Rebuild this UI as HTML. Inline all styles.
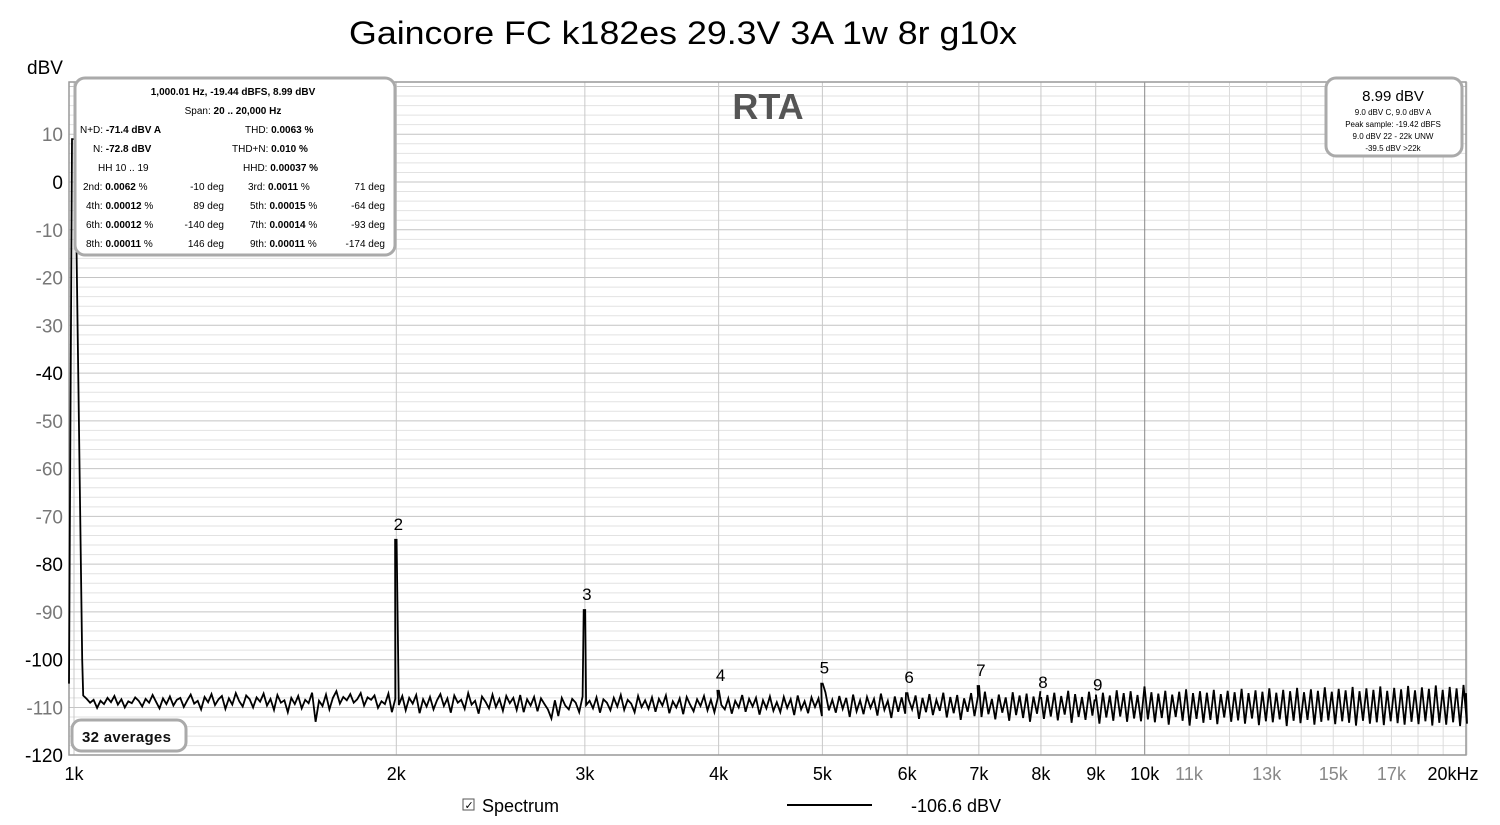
<!DOCTYPE html>
<html><head><meta charset="utf-8">
<style>
body{margin:0;background:#fff;width:1500px;height:825px;overflow:hidden;font-family:"Liberation Sans",Arial,sans-serif;}
svg{display:block}
</style></head>
<body>
<svg id="chart" width="1500" height="825" xmlns="http://www.w3.org/2000/svg">
<rect width="1500" height="825" fill="#fff"/>
<text x="349" y="44" font-size="32" textLength="668" lengthAdjust="spacingAndGlyphs" fill="#000">Gaincore FC k182es 29.3V 3A 1w 8r g10x</text>
<text x="27" y="74" font-size="19" fill="#000">dBV</text>
<g id="grid"></g>
<rect x="69" y="82" width="1397" height="673" fill="none" stroke="#999" stroke-width="1.5"/>
<g id="yticks"></g>
<g id="xticks"></g>
<text x="768" y="119" font-size="36" font-weight="bold" fill="#555" text-anchor="middle">RTA</text>
<path id="trace" fill="none" stroke="#000" stroke-width="1.8" stroke-linejoin="miter"/>
<g id="hlabels"></g>

<g font-size="10" fill="#000">
<rect x="75" y="78" width="320" height="177" rx="10" fill="#fff" stroke="#aaa" stroke-width="3"/>
<text x="233" y="95" text-anchor="middle" font-weight="bold">1,000.01 Hz, -19.44 dBFS, 8.99 dBV</text>
<text x="233" y="114" text-anchor="middle">Span: <tspan font-weight="bold">20 .. 20,000 Hz</tspan></text>
<text x="80" y="133">N+D: <tspan font-weight="bold">-71.4 dBV A</tspan></text>
<text x="245" y="133">THD: <tspan font-weight="bold">0.0063 %</tspan></text>
<text x="93" y="152">N: <tspan font-weight="bold">-72.8 dBV</tspan></text>
<text x="232" y="152">THD+N: <tspan font-weight="bold">0.010 %</tspan></text>
<text x="98" y="171">HH 10 .. 19</text>
<text x="243" y="171">HHD: <tspan font-weight="bold">0.00037 %</tspan></text>
<text x="83" y="190">2nd: <tspan font-weight="bold">0.0062</tspan> %</text><text x="224" y="190" text-anchor="end">-10 deg</text>
<text x="248" y="190">3rd: <tspan font-weight="bold">0.0011</tspan> %</text><text x="385" y="190" text-anchor="end">71 deg</text>
<text x="86" y="209">4th: <tspan font-weight="bold">0.00012</tspan> %</text><text x="224" y="209" text-anchor="end">89 deg</text>
<text x="250" y="209">5th: <tspan font-weight="bold">0.00015</tspan> %</text><text x="385" y="209" text-anchor="end">-64 deg</text>
<text x="86" y="228">6th: <tspan font-weight="bold">0.00012</tspan> %</text><text x="224" y="228" text-anchor="end">-140 deg</text>
<text x="250" y="228">7th: <tspan font-weight="bold">0.00014</tspan> %</text><text x="385" y="228" text-anchor="end">-93 deg</text>
<text x="86" y="247">8th: <tspan font-weight="bold">0.00011</tspan> %</text><text x="224" y="247" text-anchor="end">146 deg</text>
<text x="250" y="247">9th: <tspan font-weight="bold">0.00011</tspan> %</text><text x="385" y="247" text-anchor="end">-174 deg</text>
</g>

<g fill="#000" text-anchor="middle">
<rect x="1326" y="78" width="136" height="78" rx="10" fill="#fff" stroke="#aaa" stroke-width="3"/>
<text x="1393" y="101" font-size="15">8.99 dBV</text>
<text x="1393" y="115" font-size="8">9.0 dBV C, 9.0 dBV A</text>
<text x="1393" y="127" font-size="8">Peak sample: -19.42 dBFS</text>
<text x="1393" y="139" font-size="8">9.0 dBV 22 - 22k UNW</text>
<text x="1393" y="151" font-size="8">-39.5 dBV &gt;22k</text>
</g>

<g>
<rect x="72" y="720" width="114" height="31" rx="9" fill="#fff" stroke="#aaa" stroke-width="3"/>
<text x="82" y="742" font-size="15" font-weight="bold" fill="#111" letter-spacing="0.3">32 averages</text>
</g>

<g>
<rect x="463" y="799" width="11" height="11" fill="#fff" stroke="#555"/>
<text x="464.5" y="809" font-size="11" fill="#000">✓</text>
<text x="482" y="812" font-size="18" fill="#000">Spectrum</text>
<line x1="787" y1="805" x2="872" y2="805" stroke="#000" stroke-width="2"/>
<text x="911" y="812" font-size="18" fill="#000">-106.6 dBV</text>
</g>
</svg>
<script>
const yTicks=[10,0,-10,-20,-30,-40,-50,-60,-70,-80,-90,-100,-110,-120];
const yDark=[0,-40,-80,-100,-120];
const xMajor=[1000,2000,3000,4000,5000,6000,7000,8000,9000,10000,20000];
const xMajorLabels=["1k","2k","3k","4k","5k","6k","7k","8k","9k","10k","20kHz"];
const xMinor=[11000,13000,15000,17000];
const xMinorLabels=["11k","13k","15k","17k"];
const xMinorGrid=[12000,14000,16000,18000,19000];
const fundFreq=1000, fundLevel=8.99;
const harmFreqs=[2000,3000,4000,5000,6000,7000,8000,9000];
const harmLevels=[-74.9,-89.6,-106.5,-105,-107,-105.5,-108,-108.5];
const harmLabels=["2","3","4","5","6","7","8","9"];
const noiseStart=1020, noiseEnd=20000;
const noise=[
-107.5,-108.2,-109.0,-108.4,-110.1,-108.6,-109.3,-108.0,-108.9,-107.6,-109.4,-108.3,-110.0,-108.7,-109.1,-107.9,-108.6,-109.8,-108.2,-109.0,
-107.4,-108.8,-110.2,-108.1,-109.3,-107.7,-109.6,-108.4,-108.0,-109.9,-108.5,-107.3,-109.2,-108.6,-110.4,-107.8,-108.9,-107.2,-109.5,-108.3,
-107.6,-110.3,-108.1,-109.4,-107.0,-108.7,-109.8,-107.5,-108.3,-110.0,-107.9,-108.8,-107.1,-109.6,-108.2,-110.5,-107.4,-109.0,-108.5,-111.0,
-108.0,-109.3,-107.6,-110.2,-108.4,-109.1,-106.9,-113.0,-108.6,-109.7,-107.3,-110.4,-108.0,-106.6,-109.2,-107.8,-108.5,-107.2,-109.0,-108.3,
-107.0,-109.6,-107.9,-108.4,-107.5,-110.1,-108.7,-109.3,-107.1,-111.0,-108.2,-109.5,-107.6,-110.6,-108.0,-109.2,-107.4,-111.2,-108.3,-109.8,
-107.8,-110.4,-108.5,-107.2,-109.7,-108.1,-111.1,-107.5,-109.0,-108.4,-110.3,-107.0,-109.4,-108.6,-111.3,-107.7,-108.8,-110.2,-107.3,-109.9,
-108.2,-110.7,-107.6,-109.1,-108.0,-110.5,-107.4,-111.0,-108.3,-109.6,-107.8,-110.8,-108.1,-109.3,-110.4,-112.3,-108.5,-111.8,-108.0,-109.6,
-110.4,-108.2,-109.0,-111.0,-107.7,-109.5,-108.6,-110.2,-107.9,-111.1,-108.3,-109.0,-110.6,-108.0,-109.8,-107.4,-110.5,-108.4,-109.2,-111.0,
-107.6,-109.9,-108.5,-110.3,-107.9,-110.9,-108.2,-109.6,-107.5,-111.2,-108.7,-110.0,-108.1,-111.4,-107.8,-109.4,-110.8,-108.3,-109.7,-107.6,
-110.6,-108.4,-111.0,-107.9,-109.5,-110.4,-108.1,-111.3,-108.6,-110.0,-107.4,-110.9,-108.2,-109.8,-108.0,-111.5,-108.5,-110.2,-107.7,-110.7,
-108.9,-111.0,-107.8,-110.1,-108.3,-111.6,-107.5,-110.4,-108.7,-111.2,-107.9,-109.9,-108.1,-111.8,-106.8,-110.6,-108.4,-111.1,-107.6,-110.3,
-108.0,-112.0,-107.3,-110.8,-108.5,-111.4,-107.8,-110.1,-108.2,-111.7,-107.1,-110.5,-108.6,-112.2,-107.7,-110.9,-107.9,-111.3,-108.3,-110.4,
-107.5,-112.4,-108.0,-111.0,-107.2,-111.6,-108.4,-110.7,-106.9,-112.1,-107.8,-111.2,-107.4,-112.6,-108.1,-110.9,-107.0,-111.8,-107.6,-112.0,
-106.7,-111.4,-108.2,-112.5,-107.3,-111.1,-107.9,-112.8,-106.8,-111.6,-107.5,-112.2,-107.1,-113.0,-107.7,-111.3,-106.6,-112.4,-107.4,-111.9,
-106.9,-112.7,-107.6,-111.5,-106.5,-113.2,-107.2,-112.0,-107.8,-112.6,-106.7,-111.7,-107.3,-113.4,-106.9,-112.1,-107.5,-112.8,-106.4,-111.9,
-107.0,-113.0,-106.6,-112.3,-107.4,-112.9,-105.6,-112.5,-106.8,-113.1,-107.1,-112.2,-106.5,-113.6,-107.3,-112.0,-106.7,-112.8,-106.2,-113.8,
-107.0,-112.4,-106.6,-113.2,-106.9,-112.6,-106.3,-113.5,-107.2,-112.1,-106.5,-113.0,-106.8,-112.7,-106.1,-113.4,-107.0,-112.3,-106.4,-113.7,
-106.7,-112.9,-106.0,-113.1,-106.9,-112.5,-106.3,-113.9,-106.6,-112.8,-105.9,-113.3,-106.8,-112.6,-106.2,-113.6,-106.5,-113.0,-105.8,-112.7,
-106.7,-113.5,-106.1,-112.9,-106.4,-113.2,-105.7,-113.8,-106.6,-112.8,-106.0,-113.4,-106.3,-113.1,-105.6,-113.7,-106.5,-112.9,-105.9,-113.3,
-106.2,-113.6,-105.5,-113.0,-106.4,-113.5,-105.8,-112.9,-106.1,-113.8,-105.4,-113.2,-106.3,-113.6,-105.7,-113.1,-106.0,-113.9,-105.3,-113.4];

const X0=74, DEC=1070.7, Y0=182, PER=4.777;
const L=69,R=1466,T=82,B=755;
const xs=f=>X0+Math.log10(f/1000)*DEC;
const ys=v=>Math.max(T,Math.min(B,Y0-v*PER));
const NS='http://www.w3.org/2000/svg';
function mk(tag,attrs,parent){const e=document.createElementNS(NS,tag);for(const k in attrs)e.setAttribute(k,attrs[k]);parent.appendChild(e);return e;}
const grid=document.getElementById('grid');
for(let v=20;v>=-120;v-=2){
  const y=ys(v); if(y<=T||y>=B) continue;
  const l=mk('line',{x1:L,x2:R,y1:y,y2:y,stroke:(v%10===0)?'#c4c4c4':'#e2e2e2','stroke-width':1},grid);
  
  
}
xMajor.concat(xMinor,xMinorGrid).forEach(f=>{
  const x=xs(f);
  const l=mk('line',{x1:x,x2:x,y1:T,y2:B,stroke:f===10000?'#888':(f>10000?'#dcdcdc':'#c8c8c8'),'stroke-width':1},grid);
  
  
});
const yt=document.getElementById('yticks');
yTicks.forEach(v=>{
  const t=mk('text',{x:63,y:ys(v)+7,'font-size':19,'text-anchor':'end',fill:yDark.includes(v)?'#000':'#777'},yt);
  t.textContent=v;
  
  
});
const xt=document.getElementById('xticks');
xMajor.forEach((f,i)=>{
  const t=mk('text',{x:xs(f)+(f===20000?-14:0),y:780,'font-size':18,'text-anchor':'middle',fill:'#000'},xt);
  t.textContent=xMajorLabels[i];
  
  
});
xMinor.forEach((f,i)=>{
  const t=mk('text',{x:xs(f),y:780,'font-size':18,'text-anchor':'middle',fill:'#888'},xt);
  t.textContent=xMinorLabels[i];
  
  
});
let pts=[];
pts.push([L,ys(-105)]);
pts.push([xs(fundFreq)-2,ys(fundLevel)]);
pts.push([xs(fundFreq)+1,ys(fundLevel)]);
pts.push([xs(noiseStart)-1,ys(-100)]);
const n=noise.length, lr=Math.log10(noiseEnd/noiseStart);
let hi=0;
for(let i=0;i<n;i++){
  const f=noiseStart*Math.pow(10,lr*i/(n-1));
  while(hi<harmFreqs.length && harmFreqs[hi]<=f){
    const hx=xs(harmFreqs[hi]);
    pts.push([hx-1.2,ys(harmLevels[hi])]);
    pts.push([hx+0.3,ys(harmLevels[hi])]);
    hi++;
  }
  pts.push([xs(f),ys(noise[i])]);
}
pts.push([R,ys(-107)]);
document.getElementById('trace').setAttribute('d','M'+pts.map(p=>p[0].toFixed(1)+','+p[1].toFixed(1)).join(' L'));
const hl=document.getElementById('hlabels');
harmFreqs.forEach((f,i)=>{
  const t=mk('text',{x:xs(f)+2,y:ys(harmLevels[i])-10,'font-size':17,'text-anchor':'middle',fill:'#000'},hl);
  t.textContent=harmLabels[i];
  
  
});
</script>
</body></html>
